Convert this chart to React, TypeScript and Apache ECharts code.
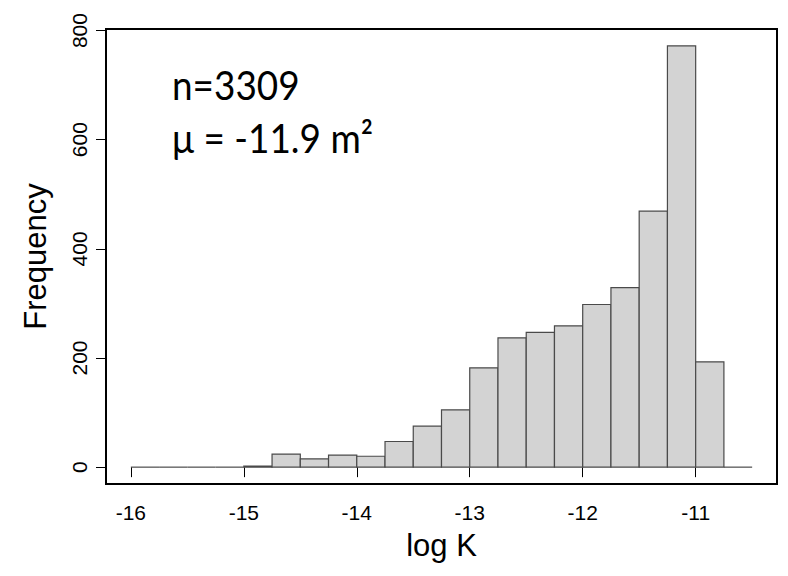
import React, { useEffect, useRef } from "react";
import * as echarts from "echarts";

const binLefts = [
  -16, -15.75, -15.5, -15.25, -15, -14.75, -14.5, -14.25, -14, -13.75, -13.5,
  -13.25, -13, -12.75, -12.5, -12.25, -12, -11.75, -11.5, -11.25, -11, -10.75,
];
const binWidth = 0.25;
const counts = [
  0, 0, 0, 0, 2, 24, 15, 22, 20, 47, 75, 105, 182, 237, 247, 259, 298, 329,
  469, 772, 193, 0,
];
const xTicks = [-16, -15, -14, -13, -12, -11];
const yTicks = [0, 200, 400, 600, 800];
const annotationLines = ["n=3309", "μ = -11.9 m²"];

export default function App() {
  const ref = useRef<HTMLDivElement>(null);
  useEffect(() => {
    if (!ref.current) return;
    const chart = echarts.init(ref.current, null, { renderer: "svg" });
    const data = binLefts.map((l, i) => [l, l + binWidth, counts[i]]);
    const axisFont = "'Liberation Sans', Arial, sans-serif";
    const annFont = "41px Lato, 'Open Sans', sans-serif";
    chart.setOption({
      animation: false,
      backgroundColor: "#ffffff",
      grid: {
        left: 106,
        right: 11,
        top: 29,
        bottom: 92,
        show: true,
        borderColor: "#000",
        borderWidth: 2,
        backgroundColor: "transparent",
      },
      xAxis: {
        type: "value",
        min: -16.22,
        max: -10.28,
        name: "log K",
        nameLocation: "middle",
        nameGap: 46,
        nameTextStyle: { fontFamily: axisFont, fontSize: 31, color: "#000" },
        axisLine: { show: false },
        splitLine: { show: false },
        axisTick: {
          show: true,
          inside: false,
          length: 10,
          customValues: xTicks,
          lineStyle: { color: "#000", width: 1 },
        },
        axisLabel: {
          customValues: xTicks,
          fontFamily: axisFont,
          fontSize: 21,
          color: "#000",
          margin: 18,
        },
      },
      yAxis: {
        type: "value",
        min: -30.88,
        max: 802.88,
        name: "Frequency",
        nameLocation: "middle",
        nameGap: 55,
        nameRotate: 90,
        nameTextStyle: { fontFamily: axisFont, fontSize: 31, color: "#000" },
        axisLine: { show: false },
        splitLine: { show: false },
        axisTick: {
          show: true,
          inside: false,
          length: 10,
          customValues: yTicks,
          lineStyle: { color: "#000", width: 1 },
        },
        axisLabel: {
          customValues: yTicks,
          rotate: 90,
          fontFamily: axisFont,
          fontSize: 21,
          color: "#000",
          margin: 16,
        },
      },
      graphic: [
        {
          type: "text",
          x: 172,
          y: 64,
          scaleX: 0.9,
          style: {
            text: annotationLines[0],
            font: annFont,
            fill: "#000",
            verticalAlign: "top",
            align: "left",
          },
        },
        {
          type: "text",
          x: 172,
          y: 117,
          scaleX: 0.9,
          style: {
            text: annotationLines[1],
            font: annFont,
            fill: "#000",
            verticalAlign: "top",
            align: "left",
          },
        },
      ],
      series: [
        {
          type: "custom",
          data,
          encode: { x: [0, 1], y: 2 },
          renderItem: (params: any, api: any) => {
            const x0 = api.value(0);
            const x1 = api.value(1);
            const c = api.value(2);
            const pTop = api.coord([x0, c]);
            const pBot = api.coord([x1, 0]);
            if (c === 0) {
              return {
                type: "line",
                shape: { x1: pTop[0], y1: pBot[1], x2: pBot[0], y2: pBot[1] },
                style: { stroke: "#4a4a4a", lineWidth: 1.2 },
              };
            }
            return {
              type: "rect",
              shape: {
                x: pTop[0],
                y: pTop[1],
                width: pBot[0] - pTop[0],
                height: pBot[1] - pTop[1],
              },
              style: { fill: "#d3d3d3", stroke: "#4a4a4a", lineWidth: 1.2 },
            };
          },
        },
      ],
    });
    return () => chart.dispose();
  }, []);
  return (
    <div
      ref={ref}
      style={{ position: "fixed", left: 0, top: 0, width: 788, height: 576 }}
    />
  );
}
